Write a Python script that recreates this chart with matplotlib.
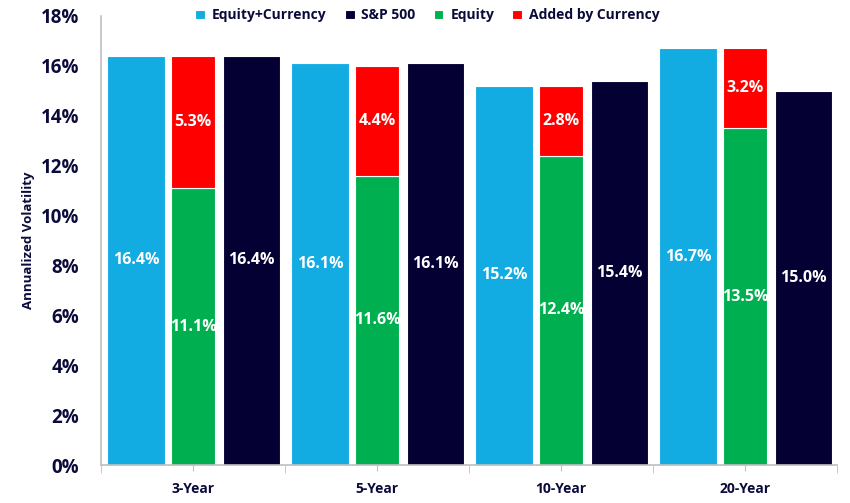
import matplotlib
matplotlib.use('Agg')
import matplotlib.pyplot as plt
import numpy as np

periods = ['3-Year', '5-Year', '10-Year', '20-Year']
equity_currency = [16.4, 16.1, 15.2, 16.7]
sp500 = [16.4, 16.1, 15.4, 15.0]
equity = [11.1, 11.6, 12.4, 13.5]
added_by_currency = [5.3, 4.4, 2.8, 3.2]

plt.rcParams['font.family'] = ['Open Sans', 'DejaVu Sans']
plt.rcParams['font.weight'] = 'bold'
text_col = '#0b0b3b'
c_blue = '#12ace3'
c_navy = '#050033'
c_green = '#00af50'
c_red = '#ff0000'

x = np.arange(len(periods))

fig = plt.figure(figsize=(8.5, 5.03), dpi=100)
ax = fig.add_axes([0.119, 0.0755, 0.866, 0.893])

b1 = ax.bar(x - 0.311, equity_currency, width=0.311, color=c_blue,
            edgecolor='white', linewidth=0.8, label='Equity+Currency')
b3 = ax.bar(x, equity, width=0.24, color=c_green,
            edgecolor='white', linewidth=0.8, label='Equity')
b4 = ax.bar(x, added_by_currency, width=0.24, bottom=equity, color=c_red,
            edgecolor='white', linewidth=0.8, label='Added by Currency')
b2 = ax.bar(x + 0.317, sp500, width=0.311, color=c_navy,
            edgecolor='white', linewidth=0.8, label='S&P 500')

for bars in (b1, b2, b3, b4):
    ax.bar_label(bars, labels=[f'{b.get_height():.1f}%' for b in bars],
                 label_type='center', color='white', fontsize=11.5,
                 fontweight='bold')

ax.set_xlim(-0.5, 3.5)
ax.set_ylim(0, 18)
ax.set_yticks(np.arange(0, 19, 2))
ax.set_yticklabels([f'{v}%' for v in range(0, 19, 2)], fontsize=13.5,
                   color=text_col, fontweight='bold')
ax.tick_params(axis='y', length=0, pad=16)
ax.set_xticks(x)
ax.set_xticklabels(periods, fontsize=10, color=text_col, fontweight='bold')
ax.set_xticks(np.arange(-0.5, 4, 1), minor=True)
ax.tick_params(axis='x', which='major', length=4, color='#bfbfbf', pad=8)
ax.tick_params(axis='x', which='minor', length=6, color='#bfbfbf')
ax.set_ylabel('Annualized Volatility', fontsize=9.5, color=text_col,
              fontweight='bold')
ax.yaxis.set_label_coords(-0.09, 0.5)

for s in ('top', 'right'):
    ax.spines[s].set_visible(False)
for s in ('left', 'bottom'):
    ax.spines[s].set_color('#bfbfbf')
    ax.spines[s].set_linewidth(1.2)

handles = [b1, b2, b3, b4]
leg = fig.legend(handles, [h.get_label() for h in handles], ncol=4,
                 loc='upper center', bbox_to_anchor=(0.503, 1.008),
                 frameon=False, fontsize=10, handlelength=0.7,
                 handleheight=0.7, handletextpad=0.5, columnspacing=1.3)
for t in leg.get_texts():
    t.set_color(text_col)

fig.savefig('out.png', dpi=100)
